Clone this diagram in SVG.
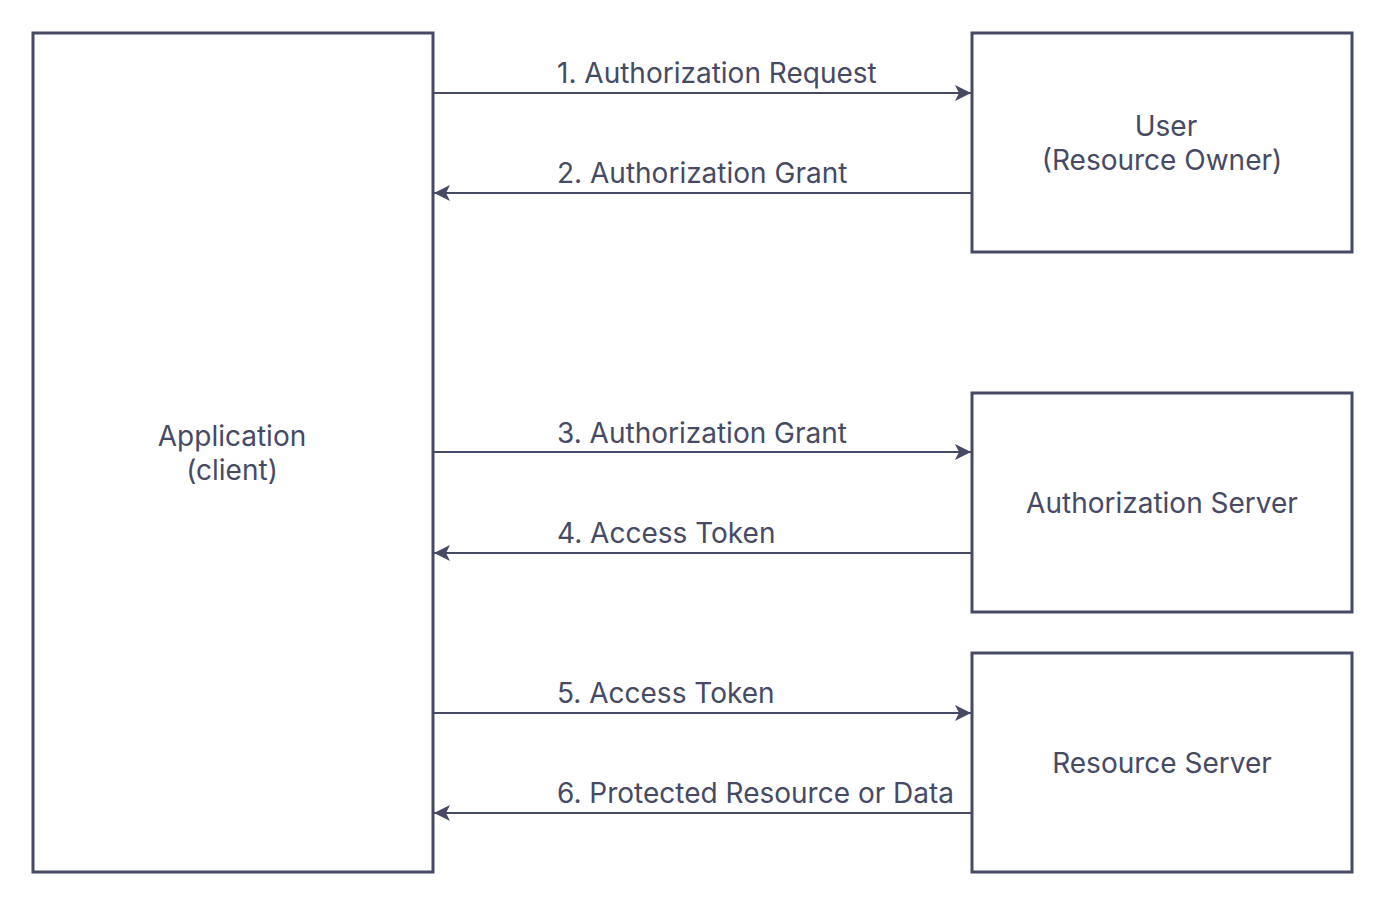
<svg xmlns="http://www.w3.org/2000/svg" width="1384" height="904" viewBox="0 0 1384 904">
<style>
.box{fill:#fff;stroke:#464a64;stroke-width:3}
.ln{stroke:#464a64;stroke-width:2;fill:none}
text{font-family:Inter,"Noto Sans",sans-serif;font-size:28px;fill:#464a64}
.c{text-anchor:middle}
</style>
<defs>
<marker id="ah" viewBox="0 0 20 20" refX="18" refY="10" markerWidth="20" markerHeight="20" markerUnits="userSpaceOnUse" orient="auto">
<path d="M2,2 L18,10 L2,18 L6,10 Z" fill="#464a64"/>
</marker>
</defs>
<rect width="1384" height="904" fill="#fff"/>
<g id="app"><rect class="box" x="33" y="33" width="400" height="839"/>
<text class="c" x="232" y="446">Application</text><text class="c" x="232" y="480">(client)</text></g>
<g id="user"><rect class="box" x="972" y="33" width="380" height="219"/>
<text class="c" x="1166" y="136">User</text><text class="c" x="1162" y="170">(Resource Owner)</text></g>
<g id="authserver"><rect class="box" x="972" y="393" width="380" height="219"/>
<text class="c" x="1162" y="513">Authorization Server</text></g>
<g id="resserver"><rect class="box" x="972" y="653" width="380" height="219"/>
<text class="c" x="1162" y="773">Resource Server</text></g>
<g id="connectors">
<path class="ln" d="M434,93 H971" marker-end="url(#ah)"/>
<path class="ln" d="M971,193 H434" marker-end="url(#ah)"/>
<path class="ln" d="M434,452 H971" marker-end="url(#ah)"/>
<path class="ln" d="M971,553 H434" marker-end="url(#ah)"/>
<path class="ln" d="M434,713 H971" marker-end="url(#ah)"/>
<path class="ln" d="M971,813 H434" marker-end="url(#ah)"/>
<text x="557" y="83">1. Authorization Request</text>
<text x="557" y="183">2. Authorization Grant</text>
<text x="557" y="443">3. Authorization Grant</text>
<text x="557" y="543">4. Access Token</text>
<text x="557" y="703">5. Access Token</text>
<text x="557" y="803">6. Protected Resource or Data</text>
</g>
</svg>
